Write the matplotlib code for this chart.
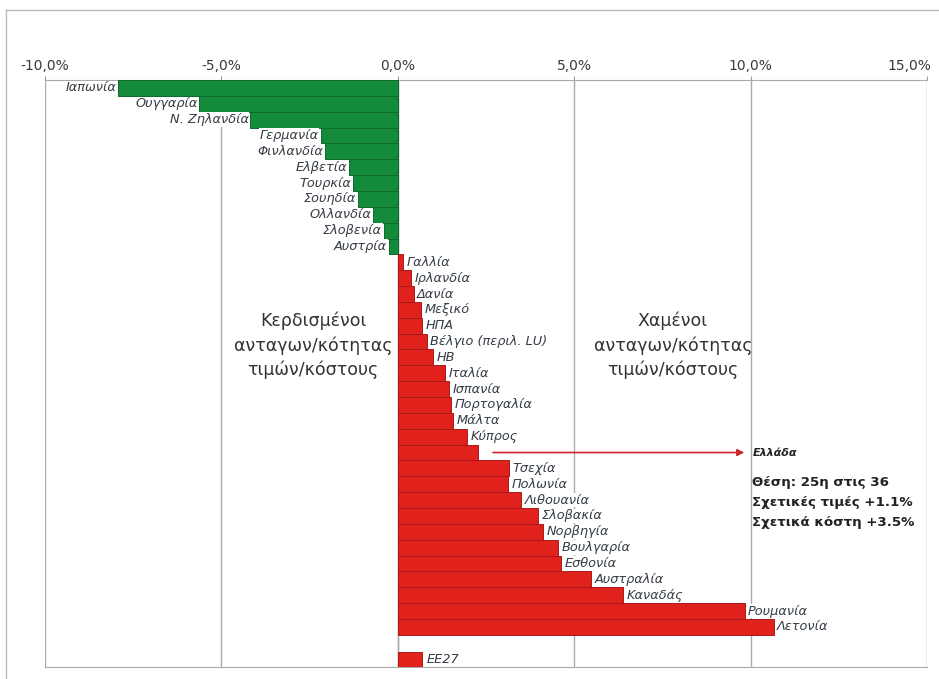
import numpy as np
import matplotlib
matplotlib.use("Agg")
import matplotlib.pyplot as plt
from matplotlib.ticker import FuncFormatter
from matplotlib.lines import Line2D
import matplotlib.transforms as mtransforms

countries = ["Ιαπωνία", "Ουγγαρία", "Ν. Ζηλανδία", "Γερμανία", "Φινλανδία", "Ελβετία",
             "Τουρκία", "Σουηδία", "Ολλανδία", "Σλοβενία", "Αυστρία",
             "Γαλλία", "Ιρλανδία", "Δανία", "Μεξικό", "ΗΠΑ", "Βέλγιο (περιλ. LU)", "ΗΒ",
             "Ιταλία", "Ισπανία", "Πορτογαλία", "Μάλτα", "Κύπρος", "",
             "Τσεχία", "Πολωνία", "Λιθουανία", "Σλοβακία", "Νορβηγία", "Βουλγαρία",
             "Εσθονία", "Αυστραλία", "Καναδάς", "Ρουμανία", "Λετονία"]
values = [-7.93, -5.63, -4.18, -2.19, -2.05, -1.39, -1.28, -1.14, -0.71, -0.40, -0.26,
          0.14, 0.37, 0.45, 0.65, 0.68, 0.82, 1.00, 1.33, 1.45, 1.50, 1.56, 1.96, 2.27,
          3.15, 3.12, 3.50, 3.98, 4.12, 4.55, 4.63, 5.48, 6.39, 9.83, 10.65]
eu_label = "ΕΕ27"
eu_value = 0.70
greece_index = 23
greece_title = "Ελλάδα"
greece_lines = ["Θέση: 25η στις 36", "Σχετικές τιμές +1.1%", "Σχετικά κόστη +3.5%"]
xticks = [-10, -5, 0, 5, 10, 15]

green = "#138b3b"
red = "#e1221c"
label_color = "#353c45"

fig = plt.figure(figsize=(9.39, 6.79), dpi=100)
ax = fig.add_axes([45 / 939, 1 - 667 / 679, 882 / 939, 587 / 679])

y = np.arange(len(countries))
colors = [green if v < 0 else red for v in values]
edges = ["#0b6b2b" if v < 0 else "#a8191a" for v in values]
ax.barh(y, values, height=1.0, color=colors, edgecolor=edges, linewidth=0.7, zorder=3)
eu_y = len(countries) + 1.06
ax.barh([eu_y], [eu_value], height=0.94, color=red, edgecolor="#a8191a", linewidth=0.7, zorder=3)

bbox = dict(boxstyle="square,pad=0.05", fc="white", ec="none")
for yi, name, v in zip(y, countries, values):
    if not name:
        continue
    if v < 0:
        ax.text(v - 0.05, yi, name, ha="right", va="center", fontsize=9.3, style="italic",
                color=label_color, bbox=bbox, zorder=4)
    else:
        ax.text(v + 0.1, yi, name, ha="left", va="center", fontsize=9.3, style="italic",
                color=label_color, bbox=bbox, zorder=4)
ax.text(eu_value + 0.12, eu_y, eu_label, ha="left", va="center", fontsize=9.3,
        style="italic", color=label_color, zorder=4)

# Greece annotation
ax.annotate("", xy=(9.9, greece_index), xytext=(values[greece_index] + 0.35, greece_index),
            arrowprops=dict(arrowstyle="-|>", color="#c8262c", lw=1.2, mutation_scale=10), zorder=4)
ax.text(10.05, greece_index, greece_title, ha="left", va="center", fontsize=8,
        fontweight="bold", style="italic", color="#222222", zorder=4)
ax.text(10.05, greece_index + 1.45, "\n".join(greece_lines), ha="left", va="top", fontsize=9.6,
        fontweight="bold", color="#222222", linespacing=1.7, zorder=4)

ax.text(-2.4, 16.25, "Κερδισμένοι\nανταγων/κότητας\nτιμών/κόστους", ha="center", va="center",
        fontsize=12.5, color="#333333", linespacing=1.4, zorder=4)
ax.text(7.8, 16.25, "Χαμένοι\nανταγων/κότητας\nτιμών/κόστους", ha="center", va="center",
        fontsize=12.5, color="#333333", linespacing=1.4, zorder=4)

ax.set_xlim(-10, 15)
ax.set_ylim(len(countries) + 1.53, -0.5)
ax.set_xticks(xticks)
ax.xaxis.set_major_formatter(FuncFormatter(lambda v, p: f"{v:.1f}%".replace(".", ",")))
ax.xaxis.tick_top()
ax.tick_params(axis="x", length=3, color="#999999", labelsize=10, labelcolor="#3a3a3a", pad=2)
ax.set_yticks([])
ax.grid(axis="x", color="#aaaaaa", linewidth=1.0, zorder=0)
ax.axvline(0, color="#aaaaaa", linewidth=1.0, zorder=1)
for s in ["top", "bottom"]:
    ax.spines[s].set_color("#aaaaaa")
for s in ["left", "right"]:
    ax.spines[s].set_visible(False)

# last tick label sits a bit left so it stays inside the picture
last = ax.get_xticklabels()[-1]
last.set_transform(last.get_transform() + mtransforms.ScaledTranslation(-18 / 100, 0, fig.dpi_scale_trans))

# outer frame
fig.add_artist(Line2D([6 / 939, 6 / 939], [0, 1 - 10 / 679], color="#bbbbbb", lw=1.0))
fig.add_artist(Line2D([6 / 939, 1], [1 - 10 / 679, 1 - 10 / 679], color="#bbbbbb", lw=1.0))

fig.savefig("out.png", dpi=100)
